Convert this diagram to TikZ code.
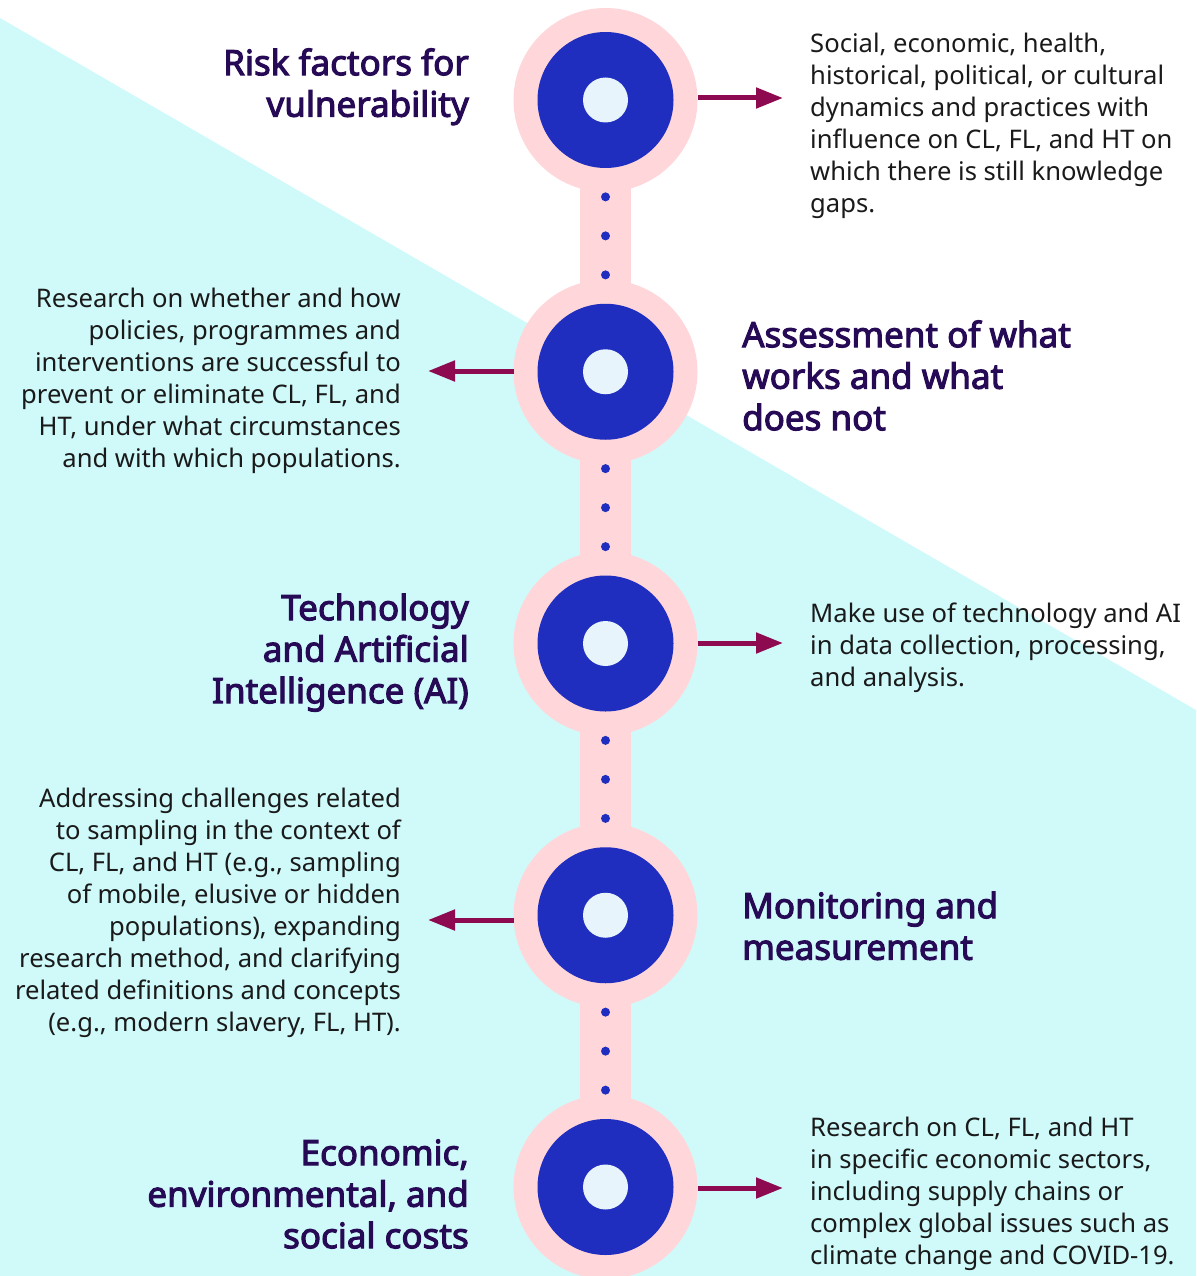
\documentclass[tikz,border=0pt]{standalone}
\usepackage{fontspec}
\setmainfont{Noto Sans}
\newfontfamily\titlefont{Noto Sans}[FakeBold=3]
\usetikzlibrary{arrows.meta}
\definecolor{bgcyan}{HTML}{D0FAFA}
\definecolor{ringpink}{HTML}{FFD7DB}
\definecolor{discblue}{HTML}{1F2EBE}
\definecolor{corelight}{HTML}{E8F4FC}
\definecolor{arrowred}{HTML}{8E0A50}
\definecolor{titlepurple}{HTML}{270A55}
\definecolor{bodytext}{HTML}{1A1A1A}
\begin{document}
\begin{tikzpicture}[x=1pt,y=-1pt,
  ring/.style={circle,fill=ringpink,minimum size=184pt,inner sep=0pt,outer sep=0pt},
  disc/.style={circle,fill=discblue,minimum size=136pt,inner sep=0pt},
  core/.style={circle,fill=corelight,minimum size=45pt,inner sep=0pt},
  linkdot/.style={circle,fill=discblue,minimum size=9pt,inner sep=0pt},
  pointer/.style={draw=arrowred,line width=5pt,-{Triangle[length=27pt,width=20pt]}},
  titletext/.style={text=titlepurple,inner sep=0pt,font=\titlefont\fontsize{35}{41.5}\selectfont},
  bodyblock/.style={text=bodytext,inner sep=0pt,font=\fontsize{25.6}{32}\selectfont},
]
\useasboundingbox (0,0) rectangle (1196,1276);
\fill[bgcyan] (0,18) -- (1196,710) -- (1196,1276) -- (0,1276) -- cycle;
\fill[ringpink] (580,100) rectangle (631,1187);

\foreach \i/\y in {1/100,2/371.75,3/643.5,4/915.25,5/1187}{
  \node[ring] (r\i) at (605.5,\y) {};
  \node[disc] (b\i) at (r\i) {};
  \node[core] (c\i) at (r\i) {};
}
\foreach \m [count=\k] in {235.875,507.625,779.375,1051.125}{
  \node[linkdot] (p\k a) at (605.5,\m-39) {};
  \node[linkdot] (p\k b) at (605.5,\m) {};
  \node[linkdot] (p\k c) at (605.5,\m+39) {};
}

% arrow ends
\coordinate (e1) at (783,98);
\coordinate (e2) at (428,371);
\coordinate (e3) at (783,643);
\coordinate (e4) at (428,920);
\coordinate (e5) at (783,1188);
\draw[pointer] (r1.east |- e1) -- (e1);
\draw[pointer] (r2.west |- e2) -- (e2);
\draw[pointer] (r3.east |- e3) -- (e3);
\draw[pointer] (r4.west |- e4) -- (e4);
\draw[pointer] (r5.east |- e5) -- (e5);

% titles
\node[titletext,anchor=north east,align=right] (t1) at (469,47)
  {\rule{0pt}{28pt}Risk factors for\\vulnerability};
\node[titletext,anchor=north west,align=left] (t2) at (742,319)
  {\rule{0pt}{28pt}Assessment of what\\works and what\\does not};
\node[titletext,anchor=north east,align=right] (t3) at (469,592)
  {\rule{0pt}{28pt}Technology\\and Artificial\\Intelligence (AI)};
\node[titletext,anchor=north west,align=left] (t4) at (742,890)
  {\rule{0pt}{28pt}Monitoring and\\measurement};
\node[titletext,anchor=north east,align=right] (t5) at (469,1137)
  {\rule{0pt}{28pt}Economic,\\environmental, and\\social costs};

% descriptions
\node[bodyblock,anchor=north west,align=left] (d1) at (810,31)
  {\rule{0pt}{21pt}Social, economic, health,\\historical, political, or cultural\\dynamics and practices with\\influence on CL, FL, and HT on\\which there is still knowledge\\gaps.};
\node[bodyblock,anchor=north east,align=right] (d2) at (401,286)
  {\rule{0pt}{21pt}Research on whether and how\\policies, programmes and\\interventions are successful to\\prevent or eliminate CL, FL, and\\HT, under what circumstances\\and with which populations.};
\node[bodyblock,anchor=north west,align=left] (d3) at (810,601)
  {\rule{0pt}{21pt}Make use of technology and AI\\in data collection, processing,\\and analysis.};
\node[bodyblock,anchor=north east,align=right] (d4) at (401,786)
  {\rule{0pt}{21pt}Addressing challenges related\\to sampling in the context of\\CL, FL, and HT (e.g., sampling\\of mobile, elusive or hidden\\populations), expanding\\research method, and clarifying\\related definitions and concepts\\(e.g., modern slavery, FL, HT).};
\node[bodyblock,anchor=north west,align=left] (d5) at (810,1115)
  {\rule{0pt}{21pt}Research on CL, FL, and HT\\in specific economic sectors,\\including supply chains or\\complex global issues such as\\climate change and COVID-19.};
\end{tikzpicture}
\end{document}
